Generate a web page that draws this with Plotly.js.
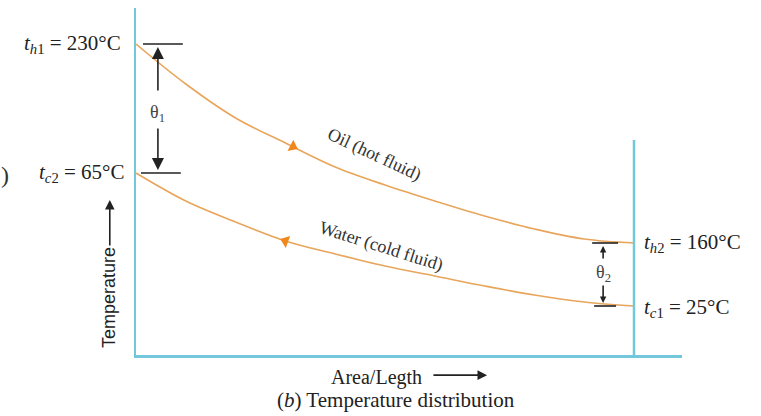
<!DOCTYPE html>
<html>
<head>
<meta charset="utf-8">
<script src="https://cdn.plot.ly/plotly-3.0.1.min.js"></script>
<style>html,body{margin:0;padding:0;background:#fff;}#chart{width:761px;height:416px;}</style>
</head>
<body>
<div id="chart"></div>
<script>
// Position along the exchanger (fraction of area / length)
const areaFrac = [0, 0.1, 0.2, 0.3, 0.4, 0.5, 0.6, 0.7, 0.8, 0.9, 1.0];
// Diagram heights of the two temperature curves (schematic, not to scale)
const oilLevel   = [311, 271, 237, 212, 188, 170, 154, 139, 126, 116, 112];
const waterLevel = [182, 154, 133, 114, 101, 89, 79, 69, 60, 53, 49];
// End temperature labels
const oilInletLabel   = '<i>t</i><sub><i>h</i>1</sub> = 230°C';
const oilOutletLabel  = '<i>t</i><sub><i>h</i>2</sub> = 160°C';
const waterInletLabel = '<i>t</i><sub><i>c</i>1</sub> = 25°C';
const waterOutletLabel= '<i>t</i><sub><i>c</i>2</sub> = 65°C';
const oilName = 'Oil (hot fluid)';
const waterName = 'Water (cold fluid)';
const xLabel = 'Area/Legth';
const yLabel = 'Temperature';
const caption = '(<i>b</i>) Temperature distribution';

function interp(xs, ys, x){
  for(let i=0;i<xs.length-1;i++){
    if(x>=xs[i] && x<=xs[i+1]){const t=(x-xs[i])/(xs[i+1]-xs[i]);return ys[i]+t*(ys[i+1]-ys[i]);}
  }
  return ys[ys.length-1];
}
const n = areaFrac.length-1;
const xEnd = areaFrac[n];
const curveColor = '#e8a55c';
const blue = '#72c7dc';
const serif = 'Liberation Serif, Times New Roman, serif';
const sans = 'Liberation Sans, Arial, sans-serif';
const txt = '#222';

const oilArrowX = 0.315, waterArrowX = 0.30;

const traces = [
  {x: areaFrac, y: oilLevel, mode:'lines', line:{color:curveColor, width:1.6, shape:'spline', smoothing:1}, hoverinfo:'skip'},
  {x: areaFrac, y: waterLevel, mode:'lines', line:{color:curveColor, width:1.6, shape:'spline', smoothing:1}, hoverinfo:'skip'},
  {x:[oilArrowX], y:[interp(areaFrac, oilLevel, oilArrowX)], mode:'markers',
   marker:{symbol:'triangle-right', size:11, color:'#f0861e', angle:27, line:{width:0}}, hoverinfo:'skip'},
  {x:[waterArrowX], y:[interp(areaFrac, waterLevel, waterArrowX)], mode:'markers',
   marker:{symbol:'triangle-left', size:11, color:'#f0861e', angle:20, line:{width:0}}, hoverinfo:'skip'}
];

const tick = (x0,x1,y)=>({type:'line', xref:'x', yref:'y', x0:x0, x1:x1, y0:y, y1:y, line:{color:'#222', width:1.6}});
const shapes = [
  tick(0.014, 0.094, oilLevel[0]),
  tick(0.010, 0.090, waterLevel[0]),
  tick(0.916, 0.968, oilLevel[n]),
  tick(0.920, 0.964, waterLevel[n]),
  {type:'line', xref:'x', yref:'y', x0:xEnd, x1:xEnd, y0:0, y1:215, line:{color:blue, width:2.5}}
];

const th1X = 0.044, th2X = 0.938;
const arr = (x, yHead, yTail, size)=>({x:x, y:yHead, ax:x, ay:yTail, axref:'x', ayref:'y', xref:'x', yref:'y',
  showarrow:true, arrowhead:2, arrowsize:size, arrowwidth:1.6, arrowcolor:'#222', text:''});
const lbl = (x, y, text, opts)=>Object.assign({x:x, y:y, xref:'x', yref:'y', text:text, showarrow:false,
  xanchor:'center', yanchor:'middle', font:{family:serif, size:21, color:txt}}, opts||{});

const annotations = [
  arr(th1X, oilLevel[0]-3, 263, 1.5),
  arr(th1X, waterLevel[0]+3, 228, 1.5),
  lbl(th1X, 242, 'θ<sub>1</sub>', {font:{family:serif, size:18, color:'#444'}}),
  arr(th2X, oilLevel[n]-3, 95, 0.8),
  arr(th2X, waterLevel[n]+3, 71, 0.8),
  lbl(th2X, 82, 'θ<sub>2</sub>', {font:{family:serif, size:18, color:'#444'}}),
  lbl(0, oilLevel[0], oilInletLabel, {xanchor:'right', xshift:-13}),
  lbl(0, waterLevel[0], waterOutletLabel, {xanchor:'right', xshift:-10}),
  lbl(xEnd, oilLevel[n], oilOutletLabel, {xanchor:'left', xshift:8}),
  lbl(xEnd, waterLevel[n]-2, waterInletLabel, {xanchor:'left', xshift:8}),
  lbl(0.478, 201, oilName, {textangle:25, font:{family:serif, size:18, color:'#333'}}),
  lbl(0.492, 109, waterName, {textangle:17.5, font:{family:serif, size:18, color:'#333'}}),
  // axis captions
  {xref:'paper', yref:'paper', x:-0.048, y:0.015, text:yLabel, textangle:-90, showarrow:false,
   xanchor:'center', yanchor:'bottom', font:{family:sans, size:18, color:txt}},
  {xref:'paper', yref:'paper', x:-0.048, y:0.447, ax:-0.048, ay:0.311, axref:'paper', ayref:'paper',
   showarrow:true, arrowhead:2, arrowsize:1.2, arrowwidth:1.6, arrowcolor:'#222', text:''},
  {xref:'paper', yref:'paper', x:0.441, y:-0.066, text:xLabel, showarrow:false,
   xanchor:'center', yanchor:'middle', font:{family:serif, size:20, color:txt}},
  {xref:'paper', yref:'paper', x:0.643, y:-0.058, ax:0.542, ay:-0.058, axref:'paper', ayref:'paper',
   showarrow:true, arrowhead:2, arrowsize:1.2, arrowwidth:1.6, arrowcolor:'#222', text:''},
  {xref:'paper', yref:'paper', x:0.476, y:-0.13, text:caption, showarrow:false,
   xanchor:'center', yanchor:'middle', font:{family:serif, size:21, color:txt}},
  {xref:'paper', yref:'paper', x:-0.24, y:0.519, text:')', showarrow:false,
   xanchor:'center', yanchor:'middle', font:{family:serif, size:24, color:'#333'}}
];

const layout = {
  width:761, height:416,
  margin:{l:136, r:79, t:8, b:61},
  paper_bgcolor:'#fff', plot_bgcolor:'#fff',
  showlegend:false,
  xaxis:{range:[0, 1.0964], showgrid:false, zeroline:false, showticklabels:false, ticks:'',
         showline:true, linecolor:blue, linewidth:2.5, fixedrange:true},
  yaxis:{range:[0, 347], showgrid:false, zeroline:false, showticklabels:false, ticks:'',
         showline:true, linecolor:blue, linewidth:2.5, fixedrange:true},
  shapes:shapes,
  annotations:annotations
};
Plotly.newPlot('chart', traces, layout, {staticPlot:true, displayModeBar:false});
</script>
</body>
</html>
